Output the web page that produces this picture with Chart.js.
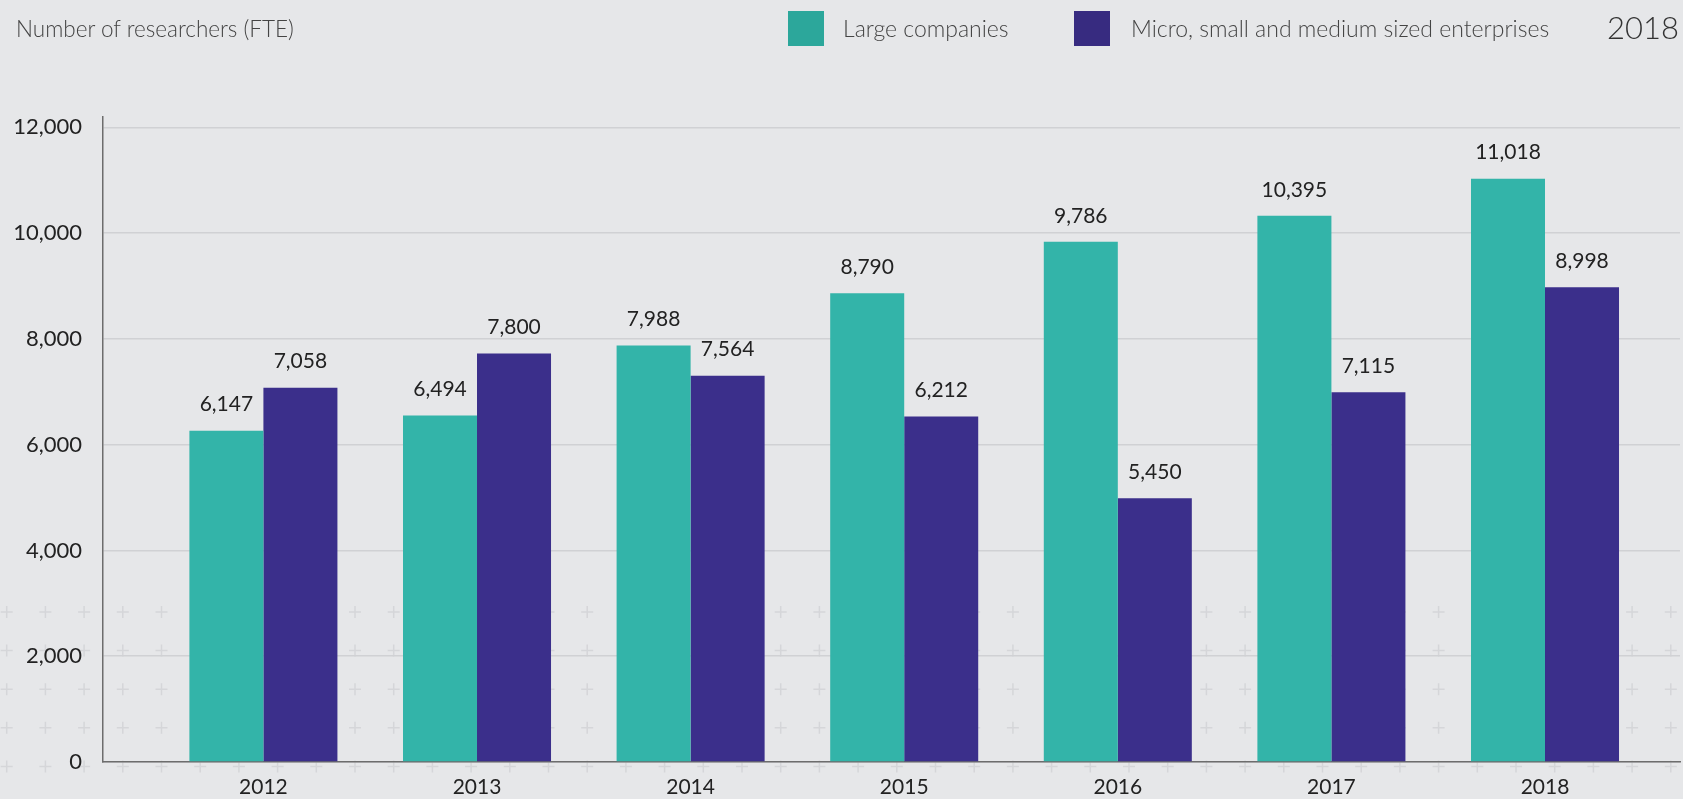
<!DOCTYPE html>
<html>
<head>
  <title>Number of researchers (FTE)</title>
  <script src="https://cdn.jsdelivr.net/npm/chart.js"></script>
  <style>
    body { margin: 0; background: #e6e7e9; font-family: Lato, "Open Sans", sans-serif; }
    .wrap { position: relative; width: 1683px; height: 799px; }
    .title { position: absolute; left: 16px; top: 15px; font-size: 22.5px; font-weight: 300; color: #444; }
    .key { position: absolute; top: 11px; width: 36px; height: 35px; }
    .keytxt { position: absolute; top: 14px; font-size: 23px; font-weight: 300; color: #444; white-space: nowrap; }
    .year { position: absolute; left: 1607px; top: 8px; font-size: 31px; font-weight: 300; color: #333; }
  </style>
</head>
<body>
<div class="wrap">
  <canvas id="chart"></canvas>
  <div class="title">Number of researchers (FTE)</div>
  <div class="key" style="left:788px;background:#2ca79b"></div>
  <div class="keytxt" style="left:843px">Large companies</div>
  <div class="key" style="left:1074px;background:#372b80"></div>
  <div class="keytxt" style="left:1131px">Micro, small and medium sized enterprises</div>
  <div class="year">2018</div>
</div>

<script>
const years = [2012, 2013, 2014, 2015, 2016, 2017, 2018];
// bar heights as drawn in the picture
const largeValues = [6265, 6549, 7873, 8865, 9835, 10327, 11028];
const smeValues = [7078, 7722, 7305, 6530, 4989, 6992, 8978];
// printed value labels
const largeLabels = ['6,147', '6,494', '7,988', '8,790', '9,786', '10,395', '11,018'];
const smeLabels = ['7,058', '7,800', '7,564', '6,212', '5,450', '7,115', '8,998'];
const yTicks = [0, 2000, 4000, 6000, 8000, 10000, 12000];

const textColor = '#222';
const axisColor = '#6d6d6d';
const fontFamily = 'Lato, "Open Sans", sans-serif';

// faint plus pattern behind the lower part of the plot
const plusPattern = {
  id: 'plusPattern',
  beforeDraw(chart) {
    const ctx = chart.ctx;
    ctx.save();
    ctx.strokeStyle = '#d5d6d9';
    ctx.lineWidth = 1.5;
    for (let y = 612; y < 790; y += 38.6) {
      for (let x = 6.7; x < chart.width; x += 38.7) {
        ctx.beginPath();
        ctx.moveTo(x - 6, y); ctx.lineTo(x + 6, y);
        ctx.moveTo(x, y - 6); ctx.lineTo(x, y + 6);
        ctx.stroke();
      }
    }
    ctx.restore();
  }
};

const valueLabels = {
  id: 'valueLabels',
  afterDatasetsDraw(chart) {
    const ctx = chart.ctx;
    const texts = [largeLabels, smeLabels];
    ctx.save();
    ctx.font = '21px ' + fontFamily;
    ctx.fillStyle = textColor;
    ctx.textAlign = 'center';
    ctx.textBaseline = 'middle';
    chart.data.datasets.forEach((ds, i) => {
      chart.getDatasetMeta(i).data.forEach((bar, j) => {
        ctx.fillText(texts[i][j], bar.x, bar.y - 26);
      });
    });
    ctx.restore();
  }
};

new Chart(document.getElementById('chart'), {
  type: 'bar',
  data: {
    datasets: [
      {
        label: 'Large companies',
        data: years.map((y, i) => ({ x: y, y: largeValues[i] })),
        backgroundColor: '#33b4a9',
        categoryPercentage: 0.693,
        barPercentage: 1
      },
      {
        label: 'Micro, small and medium sized enterprises',
        data: years.map((y, i) => ({ x: y, y: smeValues[i] })),
        backgroundColor: '#3b2f8b',
        categoryPercentage: 0.693,
        barPercentage: 1
      }
    ]
  },
  options: {
    responsive: true,
    maintainAspectRatio: false,
    animation: false,
    layout: { padding: { top: 117, right: 3, left: 0, bottom: 0 } },
    plugins: { legend: { display: false }, tooltip: { enabled: false } },
    scales: {
      x: {
        type: 'linear',
        offset: false,
        min: 2011.249,
        max: 2018.632,
        afterBuildTicks: s => { s.ticks = years.map(v => ({ value: v })); },
        afterFit: s => { s.height = 37; },
        grid: { display: false },
        border: { display: true, color: axisColor, width: 1.5 },
        ticks: {
          autoSkip: false, maxRotation: 0, padding: 5,
          color: textColor,
          font: { family: fontFamily, size: 21 },
          callback: v => String(v)
        }
      },
      y: {
        min: 0,
        max: 12195,
        afterBuildTicks: s => { s.ticks = yTicks.map(v => ({ value: v })); },
        afterFit: s => { s.width = 103; },
        grid: { color: '#d0d1d4', lineWidth: 1.5, drawTicks: false },
        border: { display: true, color: axisColor, width: 1.5 },
        ticks: {
          padding: 21,
          color: textColor,
          font: { family: fontFamily, size: 22 },
          callback: v => v.toLocaleString('en-US')
        }
      }
    }
  },
  plugins: [plusPattern, valueLabels]
});
</script>
</body>
</html>
